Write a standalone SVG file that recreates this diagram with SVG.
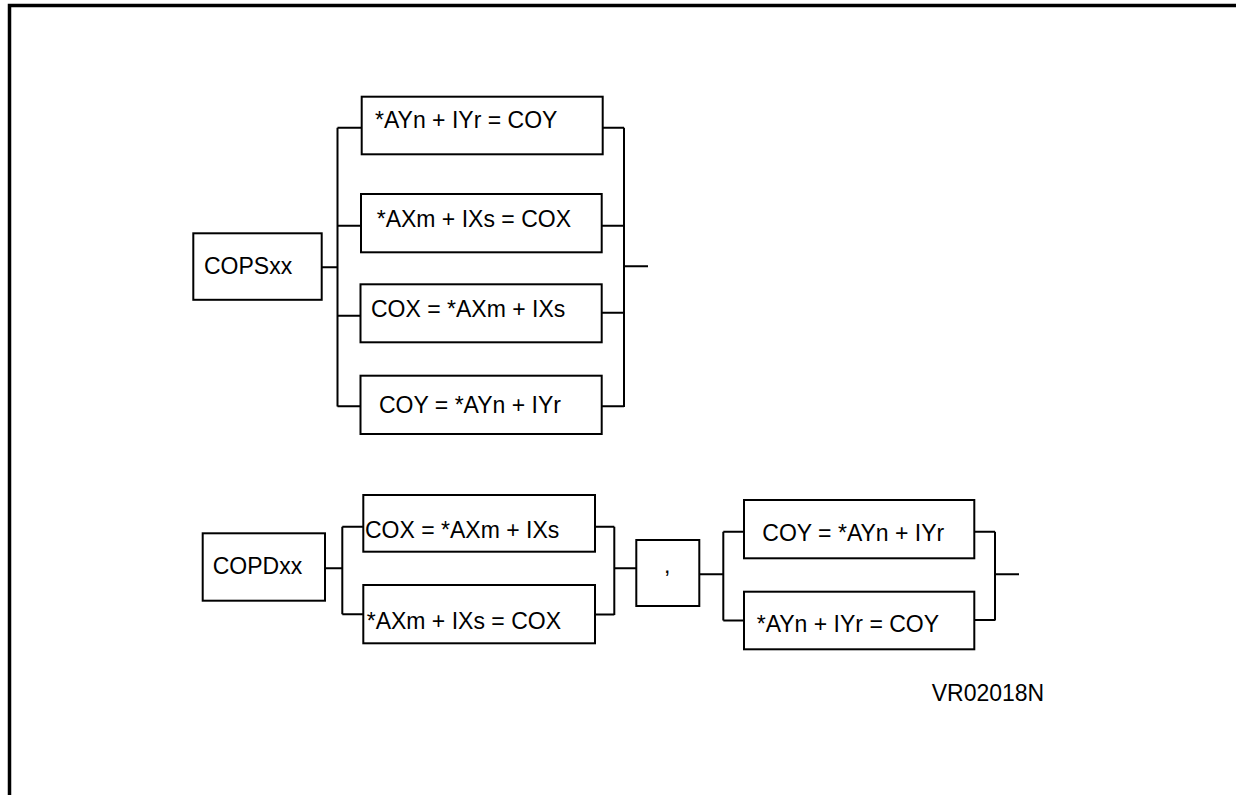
<svg xmlns="http://www.w3.org/2000/svg" width="1236" height="795" viewBox="0 0 1236 795">
<style>
.box{fill:#fff;stroke:#000;stroke-width:2}
.ln{fill:none;stroke:#000;stroke-width:2}
.frame{fill:none;stroke:#000;stroke-width:3.5}
text{font-family:"Liberation Sans",Arial,sans-serif;font-size:23px;fill:#000}
</style>
<rect width="1236" height="795" fill="#fff"/>
<path class="frame" d="M9.5,795 V5.5 H1236"/>
<g id="connectors">
<path class="ln" d="M321.7,267.3 H337.5 M337.5,127.7 V406.5 M337.5,127.7 H361.7 M337.5,225.7 H361 M337.5,315.7 H361 M337.5,406.3 H361"/>
<path class="ln" d="M602.7,127.7 H624 M601.7,225.7 H624 M601.7,312.7 H624 M601.7,406.3 H624 M624,127.7 V407 M624,266.3 H648"/>
<path class="ln" d="M325,568.3 H342.3 M342.3,526.7 V614.3 M342.3,526.7 H363.3 M342.3,614.3 H363.3"/>
<path class="ln" d="M595,526.7 H614.3 M595,614.6 H614.3 M614.3,526.7 V615 M614.3,568.3 H636.5"/>
<path class="ln" d="M699.3,574.3 H723.3 M723.3,531.7 V620.5 M723.3,531.7 H744 M723.3,620.5 H744"/>
<path class="ln" d="M974.3,531.7 H995 M974.3,620 H995 M995,531.7 V620.5 M995,574.3 H1019"/>
</g>
<g id="node-copsxx"><rect class="box" x="193.3" y="233.3" width="128.4" height="66.5"/><text x="204" y="274">COPSxx</text></g>
<g id="node-s1"><rect class="box" x="361.7" y="96.7" width="241" height="57.6"/><text x="375" y="128.3">*AYn + IYr = COY</text></g>
<g id="node-s2"><rect class="box" x="361" y="194" width="240.7" height="58.3"/><text x="376.7" y="226.7">*AXm + IXs = COX</text></g>
<g id="node-s3"><rect class="box" x="360.5" y="284.3" width="241.2" height="58"/><text x="371" y="316.7">COX = *AXm + IXs</text></g>
<g id="node-s4"><rect class="box" x="360.5" y="375.7" width="241.2" height="58.3"/><text x="379" y="413.3">COY = *AYn + IYr</text></g>
<g id="node-copdxx"><rect class="box" x="202.7" y="533.3" width="122.3" height="67.4"/><text x="212.7" y="574.3">COPDxx</text></g>
<g id="node-d1"><rect class="box" x="363.3" y="495" width="231.7" height="56.7"/><text x="365" y="538.3">COX = *AXm + IXs</text></g>
<g id="node-d2"><rect class="box" x="363.3" y="585" width="231.7" height="58.3"/><text x="366.7" y="629">*AXm + IXs = COX</text></g>
<g id="node-comma"><rect class="box" x="636.3" y="540" width="63" height="66"/><text x="664" y="573">,</text></g>
<g id="node-d3"><rect class="box" x="744" y="500" width="230.3" height="58.3"/><text x="762.3" y="541">COY = *AYn + IYr</text></g>
<g id="node-d4"><rect class="box" x="744" y="591.7" width="230.3" height="57.6"/><text x="756.7" y="631.7">*AYn + IYr = COY</text></g>
<text x="931.7" y="700.7">VR02018N</text>
</svg>
